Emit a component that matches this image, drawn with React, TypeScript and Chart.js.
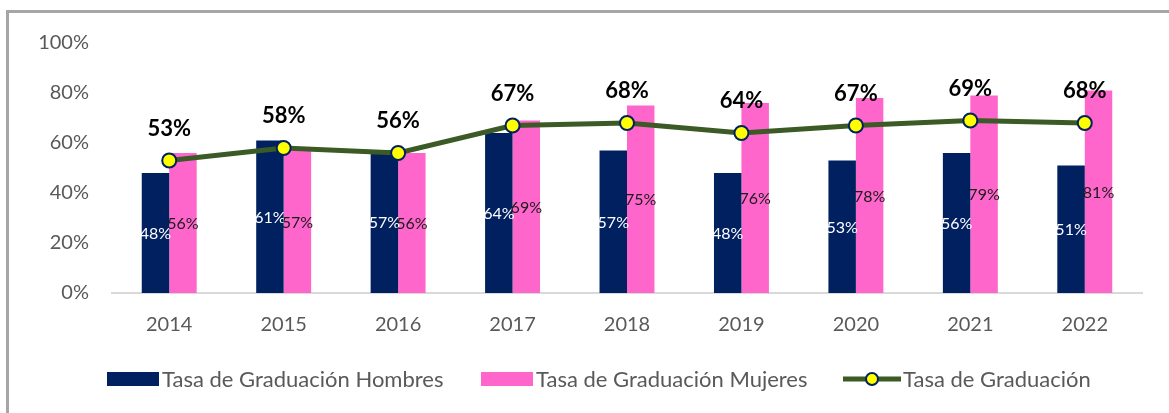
import React, { useEffect, useRef } from "react";
import { Chart, registerables } from "chart.js";

Chart.register(...registerables);

const years = ["2014", "2015", "2016", "2017", "2018", "2019", "2020", "2021", "2022"];
const hombres = [48, 61, 57, 64, 57, 48, 53, 56, 51];
const mujeres = [56, 57, 56, 69, 75, 76, 78, 79, 81];
const total = [53, 58, 56, 67, 68, 64, 67, 69, 68];
const yTicks = [0, 20, 40, 60, 80, 100];

const seriesNames = [
  "Tasa de Graduación Hombres",
  "Tasa de Graduación Mujeres",
  "Tasa de Graduación",
];

const NAVY = "#002060";
const PINK = "#ff66cc";
const GREEN = "#3b5a26";
const YELLOW = "#ffff00";
const GRAY_TEXT = "#595959";
const FONT = "Lato, 'Open Sans', sans-serif";

const labelPlugin = {
  id: "valueLabels",
  afterDatasetsDraw(chart: any) {
    const ctx = chart.ctx;
    ctx.save();
    chart.data.datasets.forEach((ds: any, di: number) => {
      const meta = chart.getDatasetMeta(di);
      meta.data.forEach((el: any, i: number) => {
        const v = ds.data[i];
        const txt = Math.round(v) + "%";
        ctx.textAlign = "center";
        ctx.textBaseline = "middle";
        if (ds.type === "line") {
          ctx.font = `bold 22px ${FONT}`;
          ctx.fillStyle = "#000000";
          ctx.fillText(txt, el.x, el.y - 32);
        } else {
          ctx.font = `16px ${FONT}`;
          ctx.fillStyle = di === 0 ? "#ffffff" : "#1a1a1a";
          ctx.fillText(txt, el.x, (el.y + el.base) / 2 + 1);
        }
      });
    });
    ctx.restore();
  },
};

const legendPlugin = {
  id: "customLegend",
  afterDraw(chart: any) {
    const ctx = chart.ctx;
    const starts = [107, 481, 843];
    const cy = 379;
    ctx.save();
    ctx.font = `22px ${FONT}`;
    ctx.textBaseline = "middle";
    ctx.textAlign = "left";
    seriesNames.forEach((name, i) => {
      const x = starts[i];
      if (i < 2) {
        ctx.fillStyle = i === 0 ? NAVY : PINK;
        ctx.fillRect(x, cy - 7, 52, 14);
        ctx.fillStyle = GRAY_TEXT;
        ctx.fillText(name, x + 55, cy + 1);
      } else {
        ctx.strokeStyle = GREEN;
        ctx.lineWidth = 5;
        ctx.beginPath();
        ctx.moveTo(x, cy);
        ctx.lineTo(x + 58, cy);
        ctx.stroke();
        ctx.beginPath();
        ctx.arc(x + 29, cy, 6, 0, Math.PI * 2);
        ctx.fillStyle = YELLOW;
        ctx.fill();
        ctx.lineWidth = 2;
        ctx.strokeStyle = NAVY;
        ctx.stroke();
        ctx.fillStyle = GRAY_TEXT;
        ctx.fillText(name, x + 60, cy + 1);
      }
    });
    ctx.restore();
  },
};

export default function App() {
  const ref = useRef<HTMLCanvasElement>(null);
  useEffect(() => {
    if (!ref.current) return;
    const chart = new Chart(ref.current, {
      type: "bar",
      data: {
        labels: years,
        datasets: [
          {
            type: "bar",
            label: seriesNames[0],
            data: hombres,
            backgroundColor: NAVY,
            categoryPercentage: 0.48,
            barPercentage: 1,
            order: 1,
          },
          {
            type: "bar",
            label: seriesNames[1],
            data: mujeres,
            backgroundColor: PINK,
            categoryPercentage: 0.48,
            barPercentage: 1,
            order: 1,
          },
          {
            type: "line",
            label: seriesNames[2],
            data: total,
            borderColor: GREEN,
            borderWidth: 5,
            pointRadius: 7,
            pointBackgroundColor: YELLOW,
            pointBorderColor: NAVY,
            pointBorderWidth: 2,
            tension: 0,
            order: 0,
          },
        ] as any,
      },
      options: {
        animation: false,
        responsive: false,
        devicePixelRatio: 1,
        layout: { padding: { top: 43, right: 27, left: 0, bottom: 0 } },
        plugins: {
          legend: { display: false },
          tooltip: { enabled: false },
        },
        scales: {
          x: {
            grid: { display: false, drawTicks: false },
            border: { display: true, color: "#d9d9d9", width: 2 },
            ticks: {
              color: GRAY_TEXT,
              font: { family: FONT, size: 20 },
              padding: 20,
            },
            afterFit: (s: any) => {
              s.height = 120;
            },
          },
          y: {
            min: 0,
            max: 100,
            grid: { display: false, drawTicks: false },
            border: { display: false },
            afterBuildTicks: (s: any) => {
              s.ticks = yTicks.map((v) => ({ value: v }));
            },
            ticks: {
              color: GRAY_TEXT,
              font: { family: FONT, size: 20 },
              padding: 23,
              callback: (v: any) => v + "%",
            },
            afterFit: (s: any) => {
              s.width = 112;
            },
          },
        },
      },
      plugins: [labelPlugin, legendPlugin],
    });
    return () => chart.destroy();
  }, []);

  return (
    <div style={{ position: "fixed", left: 0, top: 0, width: 1169, height: 413, overflow: "hidden", background: "#fff" }}>
      <canvas ref={ref} width={1169} height={413} style={{ position: "absolute", left: 0, top: 0 }} />
      <div
        style={{
          position: "absolute",
          left: 6,
          top: 10,
          width: 1300,
          height: 600,
          borderLeft: "3px solid #a6a6a6",
          borderTop: "3px solid #a6a6a6",
          pointerEvents: "none",
        }}
      />
    </div>
  );
}
